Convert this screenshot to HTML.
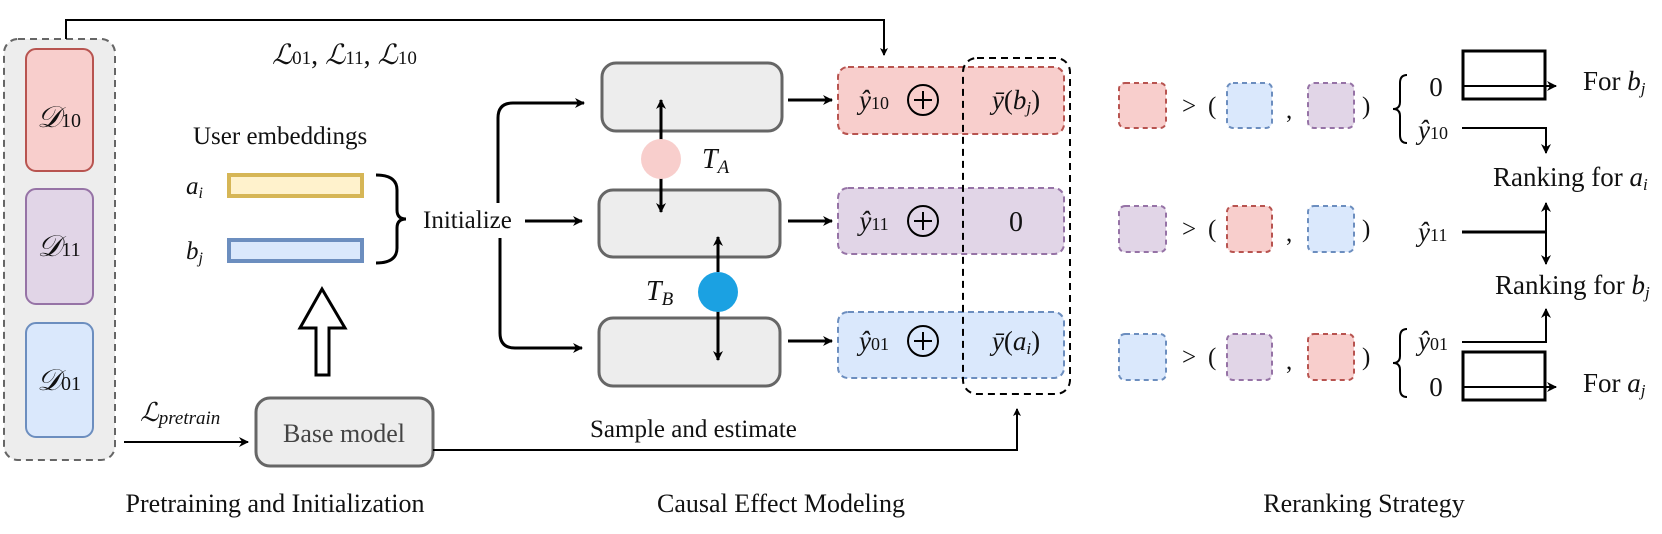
<!DOCTYPE html>
<html><head><meta charset="utf-8"><style>
html,body{margin:0;padding:0;background:#fff;}
svg{display:block;}
text{font-family:"Liberation Serif",serif;fill:#111;}
.i{font-style:italic;}
</style></head><body>
<svg width="1662" height="534" viewBox="0 0 1662 534" xmlns="http://www.w3.org/2000/svg">
<defs>
<marker id="ah" markerWidth="10" markerHeight="10" refX="9" refY="5" orient="auto" markerUnits="userSpaceOnUse"><path d="M0,0 L10,5 L0,10 L3,5 z" fill="#000"/></marker>
<marker id="ahs" markerWidth="8" markerHeight="8" refX="7" refY="4" orient="auto" markerUnits="userSpaceOnUse"><path d="M0,0 L8,4 L0,8 L2,4 z" fill="#000"/></marker>
</defs>

<rect x="4" y="39" width="111" height="421" rx="14" fill="#ededed" stroke="#666" stroke-width="2" stroke-dasharray="7,5"/>
<rect x="26" y="49" width="67" height="122" rx="10" fill="#f8cecc" stroke="#b85450" stroke-width="2"/>
<rect x="26" y="189" width="67" height="115" rx="10" fill="#e1d5e7" stroke="#9673a6" stroke-width="2"/>
<rect x="26" y="323" width="67" height="114" rx="10" fill="#dae8fc" stroke="#6c8ebf" stroke-width="2"/>
<text x="59" y="127" font-size="30" text-anchor="middle"><tspan class="i">𝒟</tspan><tspan font-size="20">10</tspan></text>
<text x="59" y="256" font-size="30" text-anchor="middle"><tspan class="i">𝒟</tspan><tspan font-size="20">11</tspan></text>
<text x="59" y="390" font-size="30" text-anchor="middle"><tspan class="i">𝒟</tspan><tspan font-size="20">01</tspan></text>

<polyline points="66,39 66,20 884,20 884,55" fill="none" stroke="#000" stroke-width="2" marker-end="url(#ahs)"/>
<text x="272" y="64" font-size="28"><tspan class="i">ℒ</tspan><tspan font-size="19">01</tspan>, <tspan class="i">ℒ</tspan><tspan font-size="19">11</tspan>, <tspan class="i">ℒ</tspan><tspan font-size="19">10</tspan></text>

<text x="193" y="144" font-size="25">User embeddings</text>
<text x="186" y="194" font-size="25" class="i">a<tspan font-size="16" dy="4">i</tspan></text>
<text x="186" y="259" font-size="25" class="i">b<tspan font-size="16" dy="4">j</tspan></text>
<rect x="229" y="175" width="133" height="21" fill="#fff2cc" stroke="#d6b656" stroke-width="4"/>
<rect x="229" y="240" width="133" height="21" fill="#dae8fc" stroke="#6c8ebf" stroke-width="4"/>
<path d="M376,175 Q397,175 397,190 L397,210 Q397,219 406,219 Q397,219 397,228 L397,248 Q397,263 376,263" fill="none" stroke="#000" stroke-width="3"/>
<text x="423" y="228" font-size="25">Initialize</text>

<path d="M316,375 L316,328 L300,328 L322,289 L345,328 L329,328 L329,375 Z" fill="#fff" stroke="#000" stroke-width="3"/>

<rect x="256" y="398" width="177" height="68" rx="14" fill="#ededed" stroke="#666" stroke-width="3"/>
<text x="344" y="442" font-size="26" text-anchor="middle" style="fill:#444">Base model</text>
<text x="140" y="421" font-size="26"><tspan class="i">ℒ</tspan><tspan class="i" font-size="19" dy="3">pretrain</tspan></text>
<line x1="124" y1="442" x2="248" y2="442" stroke="#000" stroke-width="2" marker-end="url(#ah)"/>
<polyline points="433,450 1017,450 1017,409" fill="none" stroke="#000" stroke-width="2" marker-end="url(#ahs)"/>
<text x="590" y="437" font-size="25">Sample and estimate</text>

<line x1="525" y1="221" x2="582" y2="221" stroke="#000" stroke-width="3" marker-end="url(#ah)"/>
<path d="M498,203 L498,118 Q498,103 513,103 L584,103" fill="none" stroke="#000" stroke-width="3" marker-end="url(#ah)"/>
<path d="M500,238 L500,333 Q500,348 515,348 L582,348" fill="none" stroke="#000" stroke-width="3" marker-end="url(#ah)"/>

<rect x="602" y="63" width="180" height="68" rx="14" fill="#ededed" stroke="#666" stroke-width="3"/>
<rect x="599" y="190" width="181" height="67" rx="14" fill="#ededed" stroke="#666" stroke-width="3"/>
<rect x="599" y="318" width="181" height="68" rx="14" fill="#ededed" stroke="#666" stroke-width="3"/>

<line x1="661" y1="140" x2="661" y2="100" stroke="#000" stroke-width="3" marker-end="url(#ah)"/>
<line x1="661" y1="178" x2="661" y2="212" stroke="#000" stroke-width="3" marker-end="url(#ah)"/>
<ellipse cx="661" cy="159" rx="20" ry="20" fill="#f8cecc"/>
<text x="702" y="168" font-size="28" class="i">T<tspan font-size="19" dy="5">A</tspan></text>
<line x1="718" y1="272" x2="718" y2="237" stroke="#000" stroke-width="3" marker-end="url(#ah)"/>
<line x1="718" y1="311" x2="718" y2="360" stroke="#000" stroke-width="3" marker-end="url(#ah)"/>
<ellipse cx="718" cy="292" rx="20" ry="20" fill="#1ba1e2"/>
<text x="646" y="300" font-size="28" class="i">T<tspan font-size="19" dy="5">B</tspan></text>

<line x1="788" y1="100" x2="832" y2="100" stroke="#000" stroke-width="3" marker-end="url(#ah)"/>
<line x1="788" y1="221" x2="832" y2="221" stroke="#000" stroke-width="3" marker-end="url(#ah)"/>
<line x1="788" y1="341" x2="832" y2="341" stroke="#000" stroke-width="3" marker-end="url(#ah)"/>

<rect x="838" y="67" width="226" height="67" rx="10" fill="#f8cecc" stroke="#b85450" stroke-width="2" stroke-dasharray="6,4"/>
<rect x="838" y="188" width="226" height="66" rx="10" fill="#e1d5e7" stroke="#9673a6" stroke-width="2" stroke-dasharray="6,4"/>
<rect x="838" y="312" width="226" height="66" rx="10" fill="#dae8fc" stroke="#6c8ebf" stroke-width="2" stroke-dasharray="6,4"/>
<rect x="963" y="58" width="107" height="336" rx="14" fill="none" stroke="#000" stroke-width="2" stroke-dasharray="7,5"/>

<g font-size="27">
<text x="874" y="109" text-anchor="middle" class="i">ŷ<tspan font-size="18" font-style="normal">10</tspan></text>
<text x="874" y="230" text-anchor="middle" class="i">ŷ<tspan font-size="18" font-style="normal">11</tspan></text>
<text x="874" y="350" text-anchor="middle" class="i">ŷ<tspan font-size="18" font-style="normal">01</tspan></text>
<text x="1016" y="109" text-anchor="middle"><tspan class="i">ȳ</tspan>(<tspan class="i">b<tspan font-size="17" dy="4">j</tspan></tspan><tspan dy="-4">)</tspan></text>
<text x="1016" y="231" text-anchor="middle" font-size="28">0</text>
<text x="1016" y="350" text-anchor="middle"><tspan class="i">ȳ</tspan>(<tspan class="i">a<tspan font-size="17" dy="4">i</tspan></tspan><tspan dy="-4">)</tspan></text>
</g>
<g fill="none" stroke="#000" stroke-width="2">
<circle cx="923" cy="100" r="15"/><circle cx="923" cy="221" r="15"/><circle cx="923" cy="341" r="15"/>
<path d="M914,100 h18 M923,91 v18 M914,221 h18 M923,212 v18 M914,341 h18 M923,332 v18"/>
</g>

<g stroke-width="2" stroke-dasharray="5,4">
<rect x="1119" y="83" width="47" height="45" rx="6" fill="#f8cecc" stroke="#b85450"/>
<rect x="1227" y="83" width="45" height="45" rx="6" fill="#dae8fc" stroke="#6c8ebf"/>
<rect x="1308" y="83" width="46" height="45" rx="6" fill="#e1d5e7" stroke="#9673a6"/>
<rect x="1119" y="206" width="47" height="46" rx="6" fill="#e1d5e7" stroke="#9673a6"/>
<rect x="1227" y="206" width="45" height="46" rx="6" fill="#f8cecc" stroke="#b85450"/>
<rect x="1308" y="206" width="46" height="46" rx="6" fill="#dae8fc" stroke="#6c8ebf"/>
<rect x="1119" y="334" width="47" height="46" rx="6" fill="#dae8fc" stroke="#6c8ebf"/>
<rect x="1227" y="334" width="45" height="46" rx="6" fill="#e1d5e7" stroke="#9673a6"/>
<rect x="1308" y="334" width="46" height="46" rx="6" fill="#f8cecc" stroke="#b85450"/>
</g>
<g font-size="25">
<text x="1182" y="114">&gt;</text><text x="1208" y="114">(</text><text x="1286" y="118">,</text><text x="1362" y="114">)</text>
<text x="1182" y="237">&gt;</text><text x="1208" y="237">(</text><text x="1286" y="241">,</text><text x="1362" y="237">)</text>
<text x="1182" y="365">&gt;</text><text x="1208" y="365">(</text><text x="1286" y="369">,</text><text x="1362" y="365">)</text>
</g>

<path d="M1407,75 Q1400,75 1400,83 L1400,102 Q1400,109 1393,109 Q1400,109 1400,116 L1400,135 Q1400,143 1407,143" fill="none" stroke="#000" stroke-width="2"/>
<path d="M1407,329 Q1400,329 1400,337 L1400,356 Q1400,363 1393,363 Q1400,363 1400,370 L1400,389 Q1400,397 1407,397" fill="none" stroke="#000" stroke-width="2"/>

<g font-size="27">
<text x="1436" y="96" text-anchor="middle">0</text>
<text x="1436" y="396" text-anchor="middle">0</text>
<text x="1418" y="139" class="i">ŷ<tspan font-size="18" font-style="normal">10</tspan></text>
<text x="1418" y="241" class="i">ŷ<tspan font-size="18" font-style="normal">11</tspan></text>
<text x="1418" y="350" class="i">ŷ<tspan font-size="18" font-style="normal">01</tspan></text>
<text x="1583" y="90">For <tspan class="i">b<tspan font-size="17" dy="4">j</tspan></tspan></text>
<text x="1583" y="392">For <tspan class="i">a<tspan font-size="17" dy="4">j</tspan></tspan></text>
<text x="1493" y="186">Ranking for <tspan class="i">a<tspan font-size="17" dy="4">i</tspan></tspan></text>
<text x="1495" y="294">Ranking for <tspan class="i">b<tspan font-size="17" dy="4">j</tspan></tspan></text>
</g>

<rect x="1463" y="51" width="82" height="48" fill="none" stroke="#000" stroke-width="3"/>
<line x1="1462" y1="86" x2="1556" y2="86" stroke="#000" stroke-width="2" marker-end="url(#ah)"/>
<rect x="1463" y="352" width="82" height="48" fill="none" stroke="#000" stroke-width="3"/>
<line x1="1462" y1="387" x2="1556" y2="387" stroke="#000" stroke-width="2" marker-end="url(#ah)"/>
<polyline points="1462,128 1546,128 1546,153" fill="none" stroke="#000" stroke-width="2" marker-end="url(#ah)"/>
<line x1="1462" y1="232" x2="1546" y2="232" stroke="#000" stroke-width="3"/>
<line x1="1546" y1="232" x2="1546" y2="203" stroke="#000" stroke-width="2" marker-end="url(#ah)"/>
<line x1="1546" y1="232" x2="1546" y2="264" stroke="#000" stroke-width="2" marker-end="url(#ah)"/>
<polyline points="1462,342 1546,342 1546,309" fill="none" stroke="#000" stroke-width="2" marker-end="url(#ah)"/>

<text x="275" y="512" font-size="26" text-anchor="middle">Pretraining and Initialization</text>
<text x="781" y="512" font-size="26" text-anchor="middle">Causal Effect Modeling</text>
<text x="1364" y="512" font-size="26" text-anchor="middle">Reranking Strategy</text>
</svg>
</body></html>
